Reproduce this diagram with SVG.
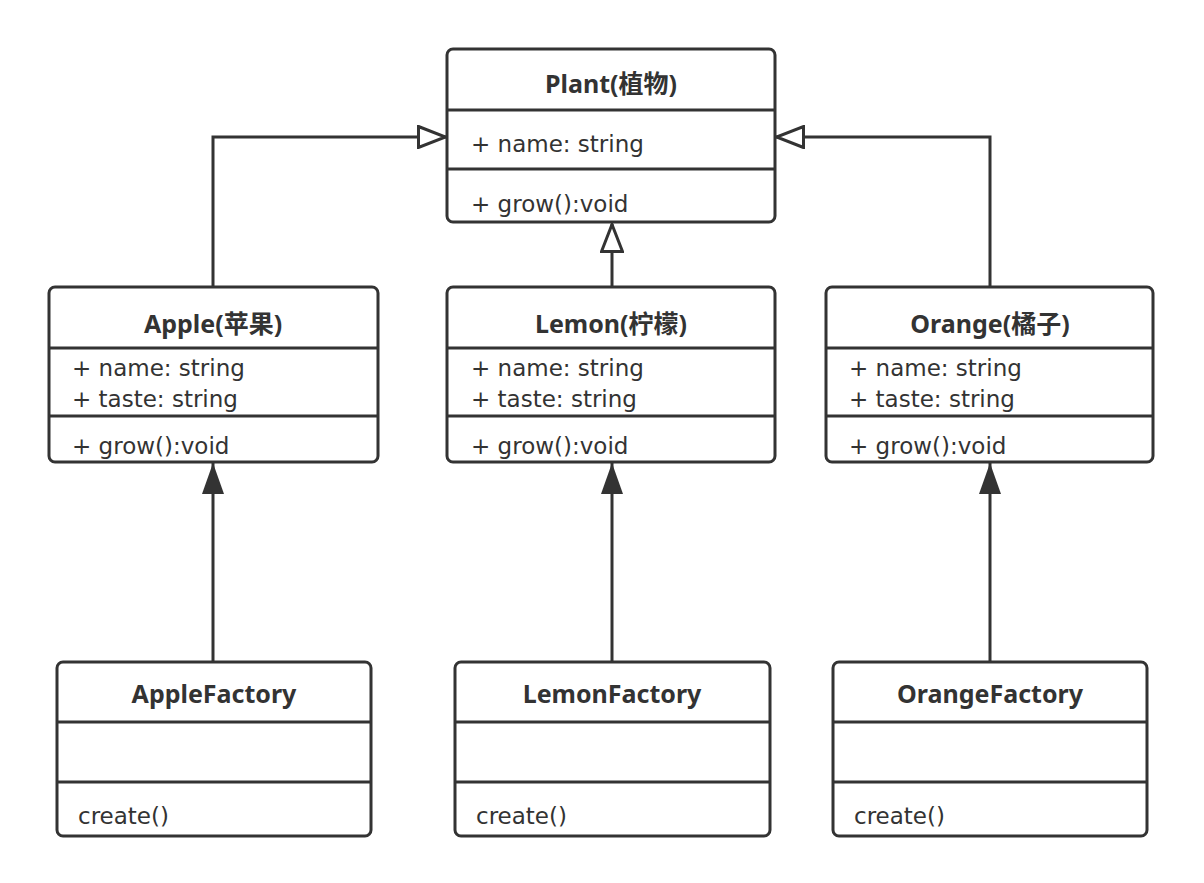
<svg xmlns="http://www.w3.org/2000/svg" width="1204" height="883" viewBox="0 0 1204 883">
<style>
.box{fill:#fff;stroke:#333;stroke-width:3}
.div{stroke:#333;stroke-width:3}
.t{font-family:"DejaVu Sans","Noto Sans CJK SC",sans-serif;font-size:23px;fill:#333}
.h{font-family:"Noto Sans","Noto Sans CJK SC",sans-serif;font-size:25px;font-weight:bold;fill:#333;text-anchor:middle}
.ln{fill:none;stroke:#333;stroke-width:3}
</style>
<defs>
<marker id="hollow" viewBox="0 0 30 24" refX="29" refY="12" markerWidth="30" markerHeight="24" markerUnits="userSpaceOnUse" orient="auto">
<path d="M1.5,1.5 L28.5,12 L1.5,22.5 Z" fill="#fff" stroke="#333" stroke-width="3"/>
</marker>
<marker id="filled" viewBox="0 0 32 24" refX="31" refY="12" markerWidth="32" markerHeight="24" markerUnits="userSpaceOnUse" orient="auto">
<path d="M0,1 L31,12 L0,23 Z" fill="#333"/>
</marker>
</defs>
<rect width="1204" height="883" fill="#fff"/>
<g id="connectors">
<path class="ln" d="M213,287 V137 H446" marker-end="url(#hollow)"/>
<path class="ln" d="M612,287 V224" marker-end="url(#hollow)"/>
<path class="ln" d="M990,287 V137 H776" marker-end="url(#hollow)"/>
<path class="ln" d="M213,662 V463" marker-end="url(#filled)"/>
<path class="ln" d="M612,662 V463" marker-end="url(#filled)"/>
<path class="ln" d="M990,662 V463" marker-end="url(#filled)"/>
</g>
<g id="plant">
<rect class="box" x="447" y="49" width="328" height="173" rx="6"/>
<line class="div" x1="447" y1="110" x2="775" y2="110"/>
<line class="div" x1="447" y1="169" x2="775" y2="169"/>
<text class="h" x="611" y="93">Plant(植物)</text>
<text class="t" x="471" y="152">+ name: string</text>
<text class="t" x="471" y="212">+ grow():void</text>
</g>
<g id="apple">
<rect class="box" x="49" y="287" width="329" height="175" rx="6"/>
<line class="div" x1="49" y1="348" x2="378" y2="348"/>
<line class="div" x1="49" y1="416" x2="378" y2="416"/>
<text class="h" x="213" y="333">Apple(苹果)</text>
<text class="t" x="72" y="376">+ name: string</text>
<text class="t" x="72" y="407">+ taste: string</text>
<text class="t" x="72" y="454">+ grow():void</text>
</g>
<g id="lemon">
<rect class="box" x="447" y="287" width="328" height="175" rx="6"/>
<line class="div" x1="447" y1="348" x2="775" y2="348"/>
<line class="div" x1="447" y1="416" x2="775" y2="416"/>
<text class="h" x="611" y="333">Lemon(柠檬)</text>
<text class="t" x="471" y="376">+ name: string</text>
<text class="t" x="471" y="407">+ taste: string</text>
<text class="t" x="471" y="454">+ grow():void</text>
</g>
<g id="orange">
<rect class="box" x="826" y="287" width="327" height="175" rx="6"/>
<line class="div" x1="826" y1="348" x2="1153" y2="348"/>
<line class="div" x1="826" y1="416" x2="1153" y2="416"/>
<text class="h" x="990" y="333">Orange(橘子)</text>
<text class="t" x="849" y="376">+ name: string</text>
<text class="t" x="849" y="407">+ taste: string</text>
<text class="t" x="849" y="454">+ grow():void</text>
</g>
<g id="applefactory">
<rect class="box" x="57" y="662" width="314" height="174" rx="6"/>
<line class="div" x1="57" y1="722" x2="371" y2="722"/>
<line class="div" x1="57" y1="782" x2="371" y2="782"/>
<text class="h" x="214" y="703">AppleFactory</text>
<text class="t" x="78" y="824">create()</text>
</g>
<g id="lemonfactory">
<rect class="box" x="455" y="662" width="315" height="174" rx="6"/>
<line class="div" x1="455" y1="722" x2="770" y2="722"/>
<line class="div" x1="455" y1="782" x2="770" y2="782"/>
<text class="h" x="612" y="703">LemonFactory</text>
<text class="t" x="476" y="824">create()</text>
</g>
<g id="orangefactory">
<rect class="box" x="833" y="662" width="314" height="174" rx="6"/>
<line class="div" x1="833" y1="722" x2="1147" y2="722"/>
<line class="div" x1="833" y1="782" x2="1147" y2="782"/>
<text class="h" x="990" y="703">OrangeFactory</text>
<text class="t" x="854" y="824">create()</text>
</g>
</svg>
